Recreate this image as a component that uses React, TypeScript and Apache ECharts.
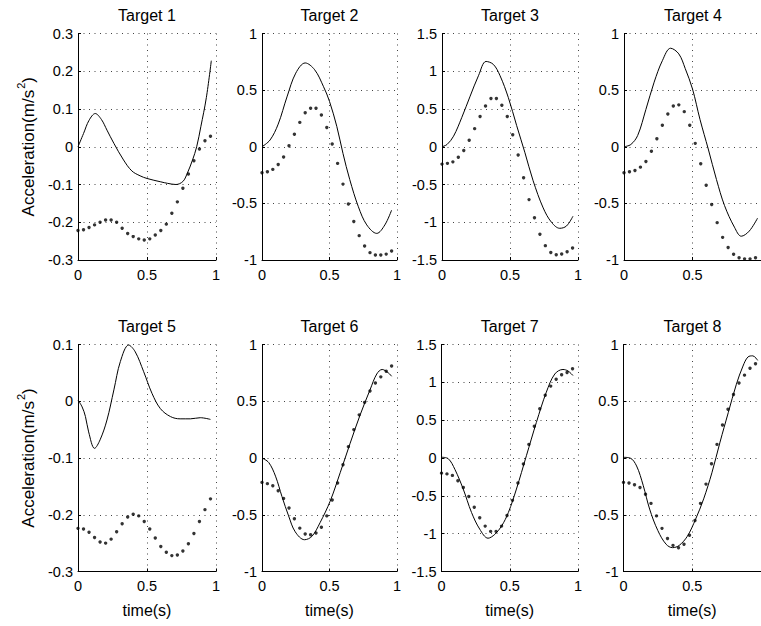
import React, { useEffect, useRef } from "react";
import * as echarts from "echarts";

// Sample instants of the measured (dotted) traces, in seconds
const SAMPLE_T = [
  0, 0.04, 0.08, 0.12, 0.16, 0.2, 0.24, 0.28, 0.32, 0.36, 0.4, 0.44, 0.48,
  0.52, 0.56, 0.6, 0.64, 0.68, 0.72, 0.76, 0.8, 0.84, 0.88, 0.92, 0.96,
];

// Measured accelerations (dots), one value per SAMPLE_T
const DOTS_1 = [-0.222, -0.22, -0.214, -0.207, -0.2, -0.194, -0.194, -0.2, -0.216, -0.23, -0.238, -0.244, -0.247, -0.244, -0.234, -0.222, -0.205, -0.176, -0.146, -0.11, -0.072, -0.037, -0.006, 0.016, 0.028];
const DOTS_2 = [-0.23, -0.22, -0.2, -0.156, -0.09, 0.009, 0.11, 0.215, 0.3, 0.34, 0.34, 0.28, 0.17, 0.024, -0.147, -0.33, -0.506, -0.66, -0.785, -0.876, -0.935, -0.956, -0.956, -0.948, -0.92];
const DOTS_3 = [-0.23, -0.22, -0.2, -0.14, -0.05, 0.086, 0.24, 0.4, 0.54, 0.64, 0.64, 0.55, 0.4, 0.16, -0.11, -0.41, -0.7, -0.94, -1.16, -1.31, -1.4, -1.43, -1.42, -1.39, -1.34];
const DOTS_4 = [-0.23, -0.22, -0.21, -0.18, -0.13, -0.04, 0.07, 0.19, 0.29, 0.36, 0.37, 0.31, 0.19, 0.03, -0.15, -0.34, -0.51, -0.67, -0.8, -0.89, -0.95, -0.98, -0.99, -0.99, -0.98];
const DOTS_5 = [-0.224, -0.225, -0.231, -0.24, -0.248, -0.25, -0.243, -0.23, -0.216, -0.204, -0.199, -0.202, -0.212, -0.225, -0.241, -0.256, -0.266, -0.272, -0.271, -0.264, -0.251, -0.233, -0.212, -0.191, -0.172];
const DOTS_6 = [-0.215, -0.226, -0.244, -0.288, -0.356, -0.44, -0.535, -0.618, -0.67, -0.676, -0.66, -0.61, -0.51, -0.37, -0.22, -0.06, 0.1, 0.25, 0.38, 0.49, 0.59, 0.66, 0.715, 0.765, 0.81];
const DOTS_7 = [-0.2, -0.21, -0.23, -0.3, -0.39, -0.51, -0.65, -0.79, -0.9, -0.97, -0.97, -0.9, -0.76, -0.56, -0.33, -0.08, 0.18, 0.42, 0.65, 0.83, 0.95, 1.04, 1.1, 1.13, 1.18];
const DOTS_8 = [-0.215, -0.22, -0.235, -0.26, -0.32, -0.4, -0.51, -0.62, -0.71, -0.77, -0.79, -0.76, -0.68, -0.55, -0.4, -0.23, -0.05, 0.12, 0.29, 0.43, 0.56, 0.66, 0.73, 0.79, 0.83];

// Model accelerations (solid), as [time, value] pairs
const LINE_1 = [[0, 0], [0.04, 0.035], [0.08, 0.07], [0.125, 0.088], [0.17, 0.072], [0.21, 0.044], [0.26, 0.009], [0.33, -0.035], [0.39, -0.064], [0.45, -0.077], [0.5, -0.084], [0.6, -0.093], [0.65, -0.097], [0.71, -0.1], [0.76, -0.092], [0.79, -0.072], [0.83, -0.035], [0.86, 0], [0.89, 0.053], [0.93, 0.13], [0.966, 0.228]];
const LINE_2 = [[0, 0], [0.06, 0.06], [0.12, 0.2], [0.185, 0.44], [0.25, 0.65], [0.32, 0.74], [0.39, 0.68], [0.456, 0.53], [0.5, 0.4], [0.554, 0.18], [0.6, -0.06], [0.65, -0.29], [0.714, -0.53], [0.776, -0.69], [0.85, -0.765], [0.91, -0.69], [0.96, -0.56]];
const LINE_3 = [[0, 0], [0.037, 0.03], [0.085, 0.14], [0.146, 0.39], [0.207, 0.67], [0.268, 0.94], [0.324, 1.13], [0.378, 1.09], [0.427, 0.94], [0.488, 0.65], [0.549, 0.28], [0.61, -0.08], [0.67, -0.45], [0.744, -0.81], [0.805, -1.0], [0.866, -1.08], [0.915, -1.05], [0.963, -0.92]];
const LINE_4 = [[0, 0], [0.05, 0.02], [0.1, 0.1], [0.16, 0.33], [0.22, 0.57], [0.28, 0.76], [0.34, 0.87], [0.4, 0.82], [0.447, 0.69], [0.5, 0.51], [0.555, 0.24], [0.615, -0.02], [0.675, -0.29], [0.734, -0.52], [0.806, -0.71], [0.856, -0.79], [0.914, -0.745], [0.975, -0.63]];
const LINE_5 = [[0, 0.002], [0.03, -0.01], [0.054, -0.027], [0.077, -0.054], [0.12, -0.083], [0.16, -0.068], [0.21, -0.033], [0.26, 0.02], [0.307, 0.07], [0.367, 0.099], [0.415, 0.087], [0.476, 0.052], [0.536, 0.014], [0.597, -0.013], [0.67, -0.027], [0.74, -0.031], [0.814, -0.031], [0.886, -0.029], [0.96, -0.032]];
const LINE_6 = [[0, 0], [0.05, -0.04], [0.1, -0.16], [0.148, -0.34], [0.197, -0.51], [0.246, -0.65], [0.315, -0.72], [0.37, -0.69], [0.43, -0.57], [0.505, -0.38], [0.579, -0.13], [0.653, 0.13], [0.727, 0.38], [0.8, 0.6], [0.85, 0.74], [0.89, 0.78], [0.936, 0.75], [0.96, 0.72]];
const LINE_7 = [[0, 0.01], [0.05, -0.01], [0.098, -0.15], [0.159, -0.41], [0.22, -0.72], [0.28, -0.94], [0.341, -1.06], [0.39, -1.01], [0.44, -0.9], [0.49, -0.72], [0.549, -0.41], [0.622, 0.03], [0.695, 0.47], [0.768, 0.87], [0.83, 1.11], [0.89, 1.17], [0.927, 1.15], [0.963, 1.09]];
const LINE_8 = [[0, 0.006], [0.048, 0], [0.095, -0.07], [0.143, -0.24], [0.19, -0.45], [0.25, -0.64], [0.31, -0.76], [0.357, -0.79], [0.405, -0.77], [0.464, -0.69], [0.524, -0.54], [0.583, -0.36], [0.643, -0.13], [0.702, 0.14], [0.762, 0.4], [0.821, 0.65], [0.869, 0.81], [0.905, 0.89], [0.94, 0.9], [0.976, 0.86]];

const TITLES = ["Target 1", "Target 2", "Target 3", "Target 4", "Target 5", "Target 6", "Target 7", "Target 8"];
const Y_RANGES = [
  [-0.3, 0.3, 0.1], [-1, 1, 0.5], [-1.5, 1.5, 0.5], [-1, 1, 0.5],
  [-0.3, 0.1, 0.1], [-1, 1, 0.5], [-1.5, 1.5, 0.5], [-1, 1, 0.5],
];
const X_RANGE = [0, 1, 0.5];
const LINES = [LINE_1, LINE_2, LINE_3, LINE_4, LINE_5, LINE_6, LINE_7, LINE_8];
const DOTS = [DOTS_1, DOTS_2, DOTS_3, DOTS_4, DOTS_5, DOTS_6, DOTS_7, DOTS_8];

const Y_NAME = "{a|Acceleration(m/s}{s|2}{a|)}";
const X_NAME = "time(s)";

// Panel boxes in pixels (the last column runs past the right edge)
const BOXES = [
  { left: 78, top: 33.5, width: 138, height: 226.5 },
  { left: 262, top: 33.5, width: 135, height: 226.5 },
  { left: 442, top: 33.5, width: 136, height: 226.5 },
  { left: 624, top: 33.5, width: 139.5, height: 226.5 },
  { left: 78, top: 344.5, width: 138, height: 227 },
  { left: 262, top: 344.5, width: 135, height: 227 },
  { left: 441.5, top: 344.5, width: 136.5, height: 227 },
  { left: 623.5, top: 344.5, width: 140, height: 227 },
];

const FONT = "'Liberation Sans', Arial, Helvetica, sans-serif";
const GRID_LINE = { show: true, lineStyle: { color: "#444", width: 1, type: [1, 4.5] } };
const AXIS_LINE = { show: true, onZero: false, lineStyle: { color: "#000", width: 1 } };

function buildOption() {
  const grid = BOXES.map((b) => ({ ...b, containLabel: false }));
  const title = BOXES.map((b, i) => ({
    text: TITLES[i],
    left: b.left + Math.min(b.width, 138) / 2,
    top: b.top - 26,
    textAlign: "center",
    padding: 0,
    textStyle: { fontFamily: FONT, fontSize: 16, fontWeight: "normal", color: "#000" },
  }));
  const xAxis = BOXES.map((_, i) => ({
    type: "value",
    gridIndex: i,
    min: X_RANGE[0],
    max: X_RANGE[1],
    interval: X_RANGE[2],
    axisLine: AXIS_LINE,
    axisTick: { show: true, inside: true, length: 3, lineStyle: { color: "#000" } },
    splitLine: GRID_LINE,
    axisLabel: {
      margin: 7,
      color: "#000",
      fontFamily: FONT,
      fontSize: 14.5,
      showMaxLabel: i !== 3 && i !== 7,
    },
    name: i >= 4 ? X_NAME : "",
    nameLocation: "middle",
    nameGap: 31,
    nameTextStyle: { fontFamily: FONT, fontSize: 16, color: "#000" },
  }));
  const yAxis = BOXES.map((_, i) => ({
    type: "value",
    gridIndex: i,
    min: Y_RANGES[i][0],
    max: Y_RANGES[i][1],
    interval: Y_RANGES[i][2],
    axisLine: AXIS_LINE,
    axisTick: { show: true, inside: true, length: 3, lineStyle: { color: "#000" } },
    splitLine: GRID_LINE,
    axisLabel: { margin: 5, color: "#000", fontFamily: FONT, fontSize: 14.5 },
    name: i === 0 || i === 4 ? Y_NAME : "",
    nameLocation: "middle",
    nameRotate: 90,
    nameGap: 41,
    nameTextStyle: {
      rich: {
        a: { fontFamily: FONT, fontSize: 17, color: "#000", lineHeight: 22, verticalAlign: "bottom" },
        s: { fontFamily: FONT, fontSize: 11, color: "#000", lineHeight: 22, verticalAlign: "top", padding: [0, 0, 0, 1] },
      },
    },
  }));
  const series: any[] = [];
  BOXES.forEach((_, i) => {
    series.push({
      type: "line",
      xAxisIndex: i,
      yAxisIndex: i,
      data: LINES[i],
      smooth: 0.35,
      showSymbol: false,
      lineStyle: { color: "#000", width: 1 },
      z: 3,
    });
    series.push({
      type: "scatter",
      xAxisIndex: i,
      yAxisIndex: i,
      data: SAMPLE_T.map((t, k) => [t, DOTS[i][k]]),
      symbol: "circle",
      symbolSize: 3.4,
      itemStyle: { color: "#000" },
      z: 4,
    });
  });
  return {
    animation: false,
    backgroundColor: "#fff",
    textStyle: { fontFamily: FONT },
    title,
    grid,
    xAxis,
    yAxis,
    series,
  };
}

export default function App() {
  const ref = useRef<HTMLDivElement>(null);
  useEffect(() => {
    if (!ref.current) return;
    const chart = echarts.init(ref.current, undefined, { renderer: "svg" });
    chart.setOption(buildOption());
    return () => chart.dispose();
  }, []);
  return (
    <div
      ref={ref}
      style={{ position: "absolute", left: 0, top: 0, width: 761, height: 626, background: "#fff" }}
    />
  );
}
